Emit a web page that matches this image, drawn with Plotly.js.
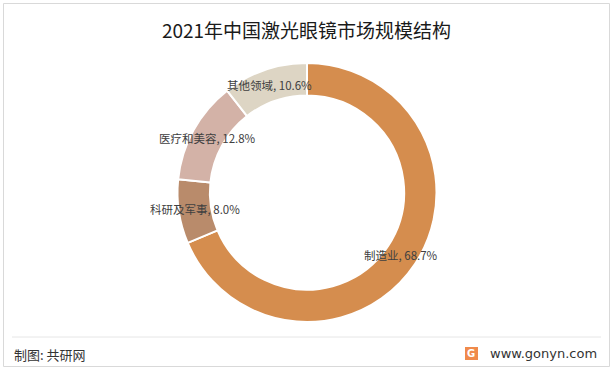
<!DOCTYPE html>
<html><head><meta charset="utf-8">
<script src="https://cdn.plot.ly/plotly-3.0.1.min.js"></script>
<style>html,body{margin:0;padding:0;background:#fff}#chart{width:613px;height:370px}</style>
</head><body><div id="chart"></div>
<script>
const categories = ['制造业', '科研及军事', '医疗和美容', '其他领域'];
const shares = [68.7, 8.0, 12.8, 10.6];
const colors = ['#D58D4E', '#B98B6B', '#D3B2A7', '#DDD5C4'];
const titleText = '2021年中国激光眼镜市场规模结构';
const sourceText = '制图: 共研网';
const siteText = 'www.gonyn.com';

const W = 613, H = 370;
const font = 'Noto Sans CJK SC, Microsoft YaHei, sans-serif';
const cx = 307, cy = 192.5, R = 129.5, hole = 0.75;
const labelR = R * (1 + hole) / 2;

const labelsText = categories.map((c, i) => c + ', ' + shares[i].toFixed(1) + '%');

const trace = {
  type: 'pie',
  labels: categories,
  values: shares,
  textinfo: 'none',
  hole: hole,
  sort: false,
  direction: 'clockwise',
  rotation: 0,
  marker: {colors: colors, line: {color: '#ffffff', width: 2}},
  domain: {x: [(cx - R)/W, (cx + R)/W], y: [1 - (cy + R)/H, 1 - (cy - R)/H]},
  hoverinfo: 'label+percent',
  showlegend: false
};

// label annotations placed at each slice's mid-angle on the middle of the ring
const total = shares.reduce((a, b) => a + b, 0);
let cum = 0;
const labelAnns = shares.map((v, i) => {
  const mid = (cum + v / 2) / total * 2 * Math.PI;
  cum += v;
  const x = cx + labelR * Math.sin(mid);
  const y = cy - labelR * Math.cos(mid);
  return {text: labelsText[i], xref: 'paper', yref: 'paper', x: x / W, y: 1 - y / H,
          xanchor: 'center', yanchor: 'middle', showarrow: false,
          font: {family: font, size: 11.5, color: '#404040'}};
});

const layout = {
  width: W, height: H,
  margin: {l: 0, r: 0, t: 0, b: 0},
  paper_bgcolor: '#ffffff',
  title: {text: titleText, font: {family: font, size: 19, color: '#1a1a1a'}, x: 0.5, xanchor: 'center', y: 1 - 31/H, yanchor: 'middle'},
  shapes: [
    {type: 'rect', xref: 'paper', yref: 'paper', x0: 3.5/W, x1: 609.5/W, y0: 1 - 366.5/H, y1: 1 - 3.5/H, line: {color: '#d9d9d9', width: 1}},
    {type: 'line', xref: 'paper', yref: 'paper', x0: 12/W, x1: 601/W, y0: 1 - 337/H, y1: 1 - 337/H, line: {color: '#e6e6e6', width: 1}},
    {type: 'rect', xref: 'paper', yref: 'paper', x0: 465/W, x1: 478/W, y0: 1 - 360/H, y1: 1 - 347/H, line: {width: 0}, fillcolor: '#F08A4B'}
  ],
  annotations: labelAnns.concat([
    {text: sourceText, xref: 'paper', yref: 'paper', x: 12/W, y: 1 - 354/H, xanchor: 'left', yanchor: 'middle', showarrow: false, font: {family: font, size: 13, color: '#333333'}},
    {text: siteText, xref: 'paper', yref: 'paper', x: 599/W, y: 1 - 353/H, xanchor: 'right', yanchor: 'middle', showarrow: false, font: {family: 'DejaVu Sans', size: 13, color: '#333333'}},
    {text: '<b>G</b>', xref: 'paper', yref: 'paper', x: 471.5/W, y: 1 - 353.5/H, xanchor: 'center', yanchor: 'middle', showarrow: false, font: {family: 'DejaVu Sans', size: 10, color: '#ffffff'}}
  ])
};

Plotly.newPlot('chart', [trace], layout, {displayModeBar: false, staticPlot: true});
</script></body></html>
